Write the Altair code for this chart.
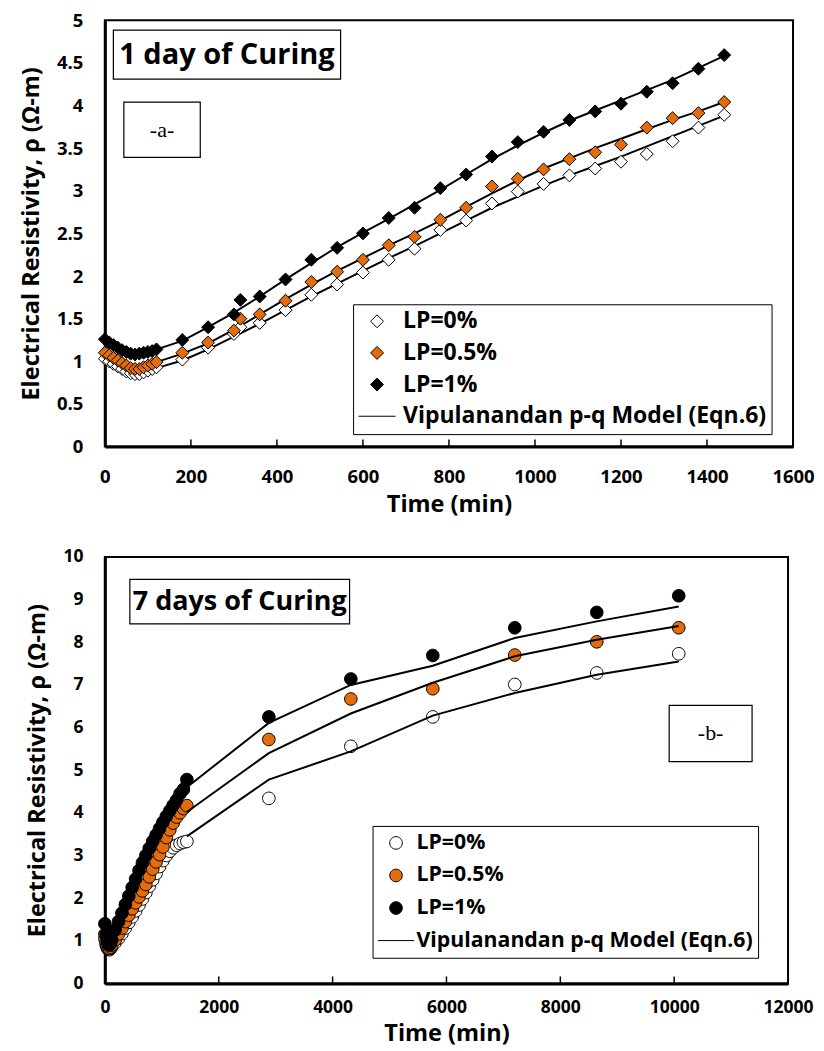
import altair as alt
import pandas as pd

FONT = "Open Sans"
ORANGE = "#E46C0A"
NAMES = ["LP=0%", "LP=0.5%", "LP=1%", "Vipulanandan p-q Model (Eqn.6)"]
FILLS = ["white", ORANGE, "black", "transparent"]
Y_TITLE = "Electrical Resistivity, ρ (Ω-m)"

# symbol outlines (unit box, scaled by the symbol size)
DIAMOND = "M0,-0.35L0.35,0L0,0.35L-0.35,0Z"
CIRCLE = "M0.35,0A0.35,0.35,0,1,1,-0.35,0A0.35,0.35,0,1,1,0.35,0Z"
DASH = "M-1,0L1,0"

# ---------------- panel (a): 1 day of curing ----------------
T_TOP = [0, 10, 20, 30, 40, 50, 60, 70, 80, 90, 100, 110, 120, 180, 240, 300, 315, 360,
         420, 480, 540, 600, 660, 720, 780, 840, 900, 960, 1020, 1080, 1140, 1200, 1260,
         1320, 1380, 1440]
LP0_TOP = [1.03, 1.00, 0.97, 0.94, 0.91, 0.88, 0.86, 0.85, 0.85, 0.87, 0.89, 0.91, 0.93,
           1.02, 1.16, 1.32, 1.40, 1.45, 1.60, 1.78, 1.90, 2.04, 2.19, 2.32, 2.54, 2.65,
           2.85, 2.99, 3.08, 3.18, 3.26, 3.34, 3.43, 3.58, 3.74, 3.89]
LP05_TOP = [1.10, 1.07, 1.04, 1.01, 0.98, 0.95, 0.92, 0.91, 0.91, 0.93, 0.95, 0.97, 0.99,
            1.10, 1.22, 1.36, 1.50, 1.55, 1.71, 1.93, 2.05, 2.19, 2.36, 2.46, 2.66, 2.80,
            3.05, 3.14, 3.25, 3.37, 3.45, 3.54, 3.74, 3.85, 3.91, 4.04]
LP1_TOP = [1.26, 1.22, 1.19, 1.16, 1.13, 1.11, 1.09, 1.08, 1.09, 1.10, 1.11, 1.12, 1.14,
           1.25, 1.40, 1.55, 1.72, 1.76, 1.96, 2.19, 2.33, 2.50, 2.68, 2.80, 3.03, 3.19,
           3.40, 3.57, 3.69, 3.83, 3.93, 4.02, 4.16, 4.26, 4.43, 4.59]

TM_TOP = [0, 20, 40, 60, 80, 100, 120, 180, 240, 300, 360, 420, 480, 540, 600, 660, 720,
          780, 840, 900, 960, 1020, 1080, 1140, 1200, 1260, 1320, 1380, 1440]
M0_TOP = [1.03, 0.97, 0.91, 0.87, 0.86, 0.88, 0.92, 1.01, 1.14, 1.29, 1.44, 1.60, 1.76,
          1.91, 2.06, 2.21, 2.35, 2.50, 2.65, 2.80, 2.93, 3.06, 3.18, 3.29, 3.40, 3.52,
          3.64, 3.76, 3.88]
M05_TOP = [1.10, 1.04, 0.98, 0.93, 0.91, 0.94, 0.99, 1.09, 1.21, 1.37, 1.55, 1.73, 1.90,
           2.06, 2.21, 2.36, 2.50, 2.65, 2.81, 2.97, 3.12, 3.26, 3.38, 3.50, 3.61, 3.72,
           3.83, 3.93, 4.04]
M1_TOP = [1.26, 1.19, 1.13, 1.09, 1.09, 1.11, 1.14, 1.24, 1.40, 1.57, 1.76, 1.96, 2.15,
          2.34, 2.51, 2.67, 2.84, 3.01, 3.19, 3.37, 3.53, 3.68, 3.82, 3.94, 4.06, 4.18,
          4.30, 4.44, 4.58]

X_TICKS_TOP = [0, 200, 400, 600, 800, 1000, 1200, 1400, 1600]
Y_TICKS_TOP = [0, 0.5, 1, 1.5, 2, 2.5, 3, 3.5, 4, 4.5, 5]

# ---------------- panel (b): 7 days of curing ----------------
T_BOT = [0, 20, 40, 60, 80, 100, 120, 180, 240, 300, 360, 420, 480, 540, 600, 660, 720,
         780, 840, 900, 960, 1020, 1080, 1140, 1200, 1260, 1320, 1380, 1440,
         2880, 4320, 5760, 7200, 8640, 10080]
LP0_BOT = [1.05, 0.92, 0.84, 0.80, 0.79, 0.82, 0.86, 0.96, 1.06, 1.17, 1.30, 1.43, 1.56,
           1.70, 1.84, 1.98, 2.13, 2.28, 2.43, 2.58, 2.74, 2.88, 3.00, 3.10, 3.18, 3.24,
           3.28, 3.31, 3.33, 4.34, 5.56, 6.25, 7.01, 7.28, 7.73]
LP05_BOT = [1.15, 0.98, 0.87, 0.82, 0.82, 0.85, 0.90, 1.02, 1.16, 1.30, 1.45, 1.60, 1.75,
            1.89, 2.03, 2.17, 2.32, 2.50, 2.68, 2.85, 3.02, 3.20, 3.42, 3.60, 3.76, 3.90,
            4.00, 4.10, 4.17, 5.72, 6.67, 6.91, 7.70, 8.01, 8.34]
LP1_BOT = [1.40, 1.15, 1.00, 0.92, 0.90, 0.95, 1.02, 1.25, 1.45, 1.65, 1.85, 2.05, 2.25,
           2.45, 2.65, 2.83, 3.00, 3.17, 3.33, 3.48, 3.63, 3.78, 3.92, 4.05, 4.18, 4.30,
           4.45, 4.55, 4.78, 6.25, 7.14, 7.69, 8.34, 8.70, 9.09]

TM_BOT = [1440, 2880, 4320, 5760, 7200, 8640, 10080]
M0_BOT = [3.45, 4.78, 5.44, 6.28, 6.81, 7.24, 7.55]
M05_BOT = [4.02, 5.40, 6.33, 7.05, 7.67, 8.06, 8.38]
M1_BOT = [4.60, 6.11, 7.00, 7.45, 8.10, 8.49, 8.84]

X_TICKS_BOT = [0, 2000, 4000, 6000, 8000, 10000, 12000]
Y_TICKS_BOT = [0, 1, 2, 3, 4, 5, 6, 7, 8, 9, 10]

H = 427


def long_df(times, series_vals):
    rows = []
    for name, vals in zip(NAMES[:3], series_vals):
        for t, v in zip(times, vals):
            rows.append({"t": t, "v": v, "series": name})
    return pd.DataFrame(rows)


def panel(times, vals, mtimes, mvals, xticks, yticks, xmax, ymax, shape, width,
          title_txt, title_font, title_box, tag_txt, tag_box, legend_xy, legend_font,
          legend_row_pad, sym_size, label_off, tick_font, lab_pad_x, title_pad_x,
          lab_pad_y, lines_on_top):
    pts_df = long_df(times, vals)
    mod_df = long_df(mtimes, mvals)
    xs = alt.Scale(domain=[0, xmax], nice=False, zero=True)
    ys = alt.Scale(domain=[0, ymax], nice=False, zero=True)
    xaxis = alt.Axis(values=xticks, format="d", title="Time (min)", ticks=False,
                     grid=False, labelPadding=lab_pad_x, titlePadding=title_pad_x,
                     domainColor="black", domainWidth=3, labelFlush=False,
                     labelOverlap=False, labelFontSize=tick_font)
    yaxis = alt.Axis(values=yticks, format="~r", title=Y_TITLE, ticks=False, grid=False,
                     labelPadding=lab_pad_y, titlePadding=13, domainColor="black",
                     domainWidth=3, labelOverlap=False, labelFontSize=tick_font)

    lines = alt.Chart(mod_df).mark_line(color="black", strokeWidth=2).encode(
        x=alt.X("t:Q", scale=xs, axis=xaxis),
        y=alt.Y("v:Q", scale=ys, axis=yaxis),
        detail="series:N",
    )
    leg = alt.Legend(title=None, orient="none", legendX=legend_xy[0], legendY=legend_xy[1],
                     direction="vertical", strokeColor="black", fillColor="white",
                     padding=5, labelFont=FONT, labelFontSize=legend_font,
                     labelFontWeight="bold", labelColor="black",
                     rowPadding=legend_row_pad, labelOffset=label_off, symbolSize=sym_size,
                     clipHeight=24, labelLimit=0, cornerRadius=0, symbolOpacity=1)
    shapes = [shape, shape, shape, DASH]
    pts = alt.Chart(pts_df).mark_point(filled=True, opacity=1, size=sym_size).encode(
        x=alt.X("t:Q", scale=xs, axis=xaxis),
        y=alt.Y("v:Q", scale=ys, axis=yaxis),
        shape=alt.Shape("series:N", scale=alt.Scale(domain=NAMES, range=shapes), legend=leg),
        fill=alt.Fill("series:N", scale=alt.Scale(domain=NAMES, range=FILLS), legend=leg),
        stroke=alt.Stroke("series:N", scale=alt.Scale(domain=NAMES, range=["black"] * 4),
                          legend=leg),
        strokeWidth=alt.StrokeWidth("series:N",
                                    scale=alt.Scale(domain=NAMES, range=[1, 1, 1, 2]),
                                    legend=leg),
        order=alt.Order("series:N"),
    )
    tick_df = pd.DataFrame({"t": xticks[1:-1]})
    ticks = alt.Chart(tick_df).mark_rule(color="black", strokeWidth=1.5).encode(
        x=alt.X("t:Q", scale=xs, axis=xaxis), y=alt.value(H), y2=alt.value(H - 7)
    )
    one = pd.DataFrame({"k": [0]})
    tb = title_box
    title_rect = alt.Chart(one).mark_rect(fill="white", stroke="black", strokeWidth=1.2).encode(
        x=alt.value(tb[0]), x2=alt.value(tb[2]), y=alt.value(tb[1]), y2=alt.value(tb[3]))
    title_text = alt.Chart(one).mark_text(text=title_txt, font=FONT, fontSize=title_font,
                                          fontWeight="bold", color="black", align="center",
                                          baseline="middle").encode(
        x=alt.value((tb[0] + tb[2]) / 2), y=alt.value((tb[1] + tb[3]) / 2))
    gb = tag_box
    tag_rect = alt.Chart(one).mark_rect(fill="white", stroke="black", strokeWidth=1.2).encode(
        x=alt.value(gb[0]), x2=alt.value(gb[2]), y=alt.value(gb[1]), y2=alt.value(gb[3]))
    tag_text = alt.Chart(one).mark_text(text=tag_txt, font="Liberation Serif", fontSize=22,
                                        color="black", align="center",
                                        baseline="middle").encode(
        x=alt.value((gb[0] + gb[2]) / 2), y=alt.value((gb[1] + gb[3]) / 2))
    layers = [pts, lines] if lines_on_top else [lines, pts]
    return alt.layer(*layers, ticks, title_rect, title_text, tag_rect, tag_text).properties(
        width=width, height=H)


top = panel(T_TOP, [LP0_TOP, LP05_TOP, LP1_TOP], TM_TOP, [M0_TOP, M05_TOP, M1_TOP],
            X_TICKS_TOP, Y_TICKS_TOP, 1600, 5, DIAMOND, 689,
            "1 day of Curing", 29, (8.5, 10, 236, 59), "-a-", (19, 82, 95.5, 137.5),
            (248.5, 284.5), 23, 7.7, 1369, 7, 18.5, 21, 6, 22, False)
bot = panel(T_BOT, [LP0_BOT, LP05_BOT, LP1_BOT], TM_BOT, [M0_BOT, M05_BOT, M1_BOT],
            X_TICKS_BOT, Y_TICKS_BOT, 12000, 10, CIRCLE, 684,
            "7 days of Curing", 27, (25, 22.5, 245, 67), "-b-", (565, 148.5, 648, 205),
            (268, 269.3), 21.3, 8.6, 1296, 2, 17.5, 15, 6, 22, True)

chart = alt.vconcat(top, bot, spacing=30.5).resolve_scale(
    shape="independent", fill="independent", stroke="independent",
    strokeWidth="independent", x="independent", y="independent").properties(
    padding={"left": 10, "top": 1.5, "right": 0, "bottom": 3}
).configure_view(stroke="black", strokeWidth=2).configure_axis(
    labelFont=FONT, labelFontSize=18.5, labelFontWeight="bold", labelColor="black",
    titleFont=FONT, titleFontSize=23.5, titleFontWeight="bold", titleColor="black"
)

chart.save("out.html", embed_options={"renderer": "svg", "actions": False})
